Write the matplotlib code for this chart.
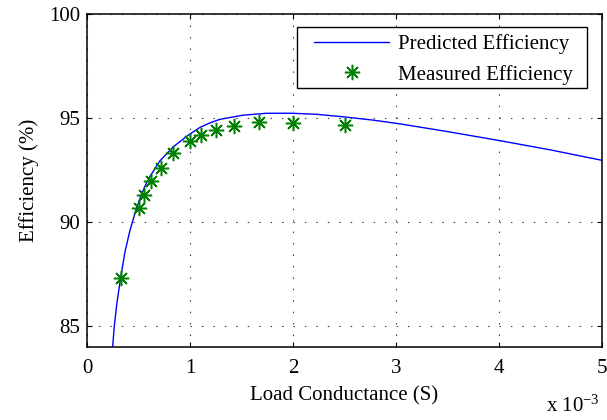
import matplotlib
matplotlib.use("Agg")
import matplotlib.pyplot as plt
from matplotlib.patches import Rectangle
from matplotlib.ticker import FixedLocator, FixedFormatter

plt.rcParams['font.family'] = ['Liberation Serif', 'DejaVu Serif']
plt.rcParams['mathtext.fontset'] = 'custom'
plt.rcParams['mathtext.rm'] = 'Liberation Serif'
plt.rcParams['mathtext.it'] = 'Liberation Serif:italic'
plt.rcParams['font.size'] = 15

# Predicted efficiency vs. load conductance (S, %)
pred_g = [0.249e-3, 0.265e-3, 0.290e-3, 0.327e-3, 0.370e-3, 0.417e-3, 0.473e-3,
          0.515e-3, 0.560e-3, 0.612e-3, 0.709e-3, 0.838e-3, 0.983e-3, 1.097e-3,
          1.194e-3, 1.291e-3, 1.518e-3, 1.745e-3, 1.993e-3, 2.23e-3, 2.49e-3,
          2.78e-3, 3.04e-3, 3.50e-3, 3.98e-3, 4.50e-3, 5.00e-3]
pred_eff = [84.0, 85.0, 86.1, 87.34, 88.6, 89.6, 90.55,
            91.15, 91.7, 92.2, 92.95, 93.62, 94.18, 94.55,
            94.77, 94.94, 95.14, 95.23, 95.23, 95.18, 95.06,
            94.90, 94.72, 94.35, 93.94, 93.47, 92.97]

# Measured efficiency points
meas_g = [0.333e-3, 0.5e-3, 0.556e-3, 0.625e-3, 0.714e-3, 0.833e-3, 1.0e-3,
          1.111e-3, 1.25e-3, 1.429e-3, 1.667e-3, 2.0e-3, 2.5e-3]
meas_eff = [87.3, 90.67, 91.3, 91.98, 92.6, 93.3, 93.89,
            94.21, 94.42, 94.63, 94.82, 94.78, 94.66]

x_ticks = [0, 1e-3, 2e-3, 3e-3, 4e-3, 5e-3]
x_tick_labels = ['0', '1', '2', '3', '4', '5']
y_ticks = [85, 90, 95, 100]

W, H = 607, 420
fig = plt.figure(figsize=(W / 100, H / 100), dpi=100)
ax = fig.add_axes([87 / W, 1 - 347 / H, 515 / W, 333 / H])

ax.plot(pred_g, pred_eff, color='#0000ff', lw=1.0, label='Predicted Efficiency')
ax.plot(meas_g, meas_eff, linestyle='none', marker=(8, 2, 0), markersize=11,
        markeredgewidth=1.1, color='#008000', label='Measured Efficiency')

ax.set_xlim(0, 5e-3)
ax.set_ylim(84, 100)
ax.xaxis.set_major_locator(FixedLocator(x_ticks))
ax.xaxis.set_major_formatter(FixedFormatter(x_tick_labels))
ax.set_yticks(y_ticks)

ax.grid(True, color='0.25', linewidth=0.8, linestyle=(0, (1.3, 9.0)))
ax.tick_params(direction='in', length=3.3, width=0.8, top=True, right=True,
               labelsize=15)
ax.tick_params(axis='x', pad=8.5)
ax.tick_params(axis='y', pad=5)
for s in ax.spines.values():
    s.set_linewidth(1.1)

ax.set_xlabel('Load Conductance (S)', fontsize=15, labelpad=6)
ax.set_ylabel('Efficiency (%)', fontsize=15, labelpad=7)

fig.text(600 / W, 1 - 412 / H, 'x 10$^{-3}$', ha='right', va='baseline',
         fontsize=15)

# legend box drawn separately so its horizontal padding can exceed the vertical one
box = Rectangle((297 / W, 1 - 88 / H), 290 / W, 61 / H, transform=fig.transFigure,
                facecolor='white', edgecolor='black', linewidth=1.0, zorder=4)
ax.add_artist(box)
box.set_clip_on(False)

leg = ax.legend(loc='upper right',
                bbox_to_anchor=((580 - 87) / 515, 1 - (27 - 14) / 333),
                borderaxespad=0, frameon=False,
                handlelength=3.6, handletextpad=0.4, borderpad=0.35,
                labelspacing=0.5, fontsize=15)
leg.set_zorder(5)

fig.savefig('out.png', dpi=100)
